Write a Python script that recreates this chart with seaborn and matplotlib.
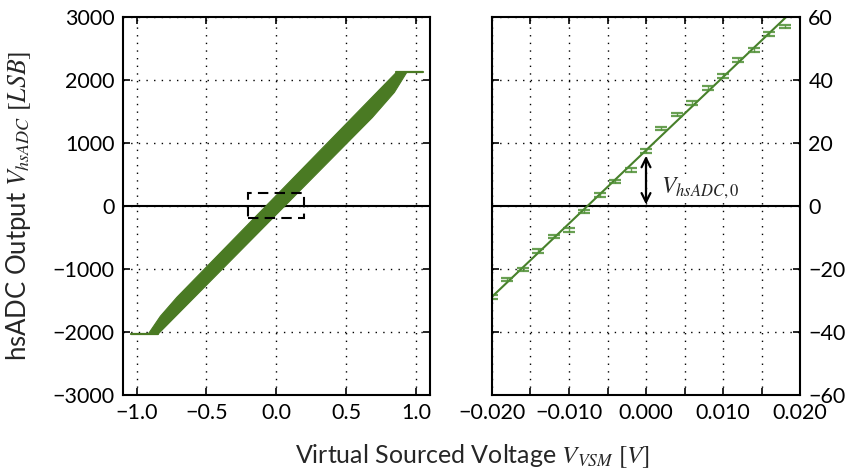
import numpy as np
import pandas as pd
import seaborn as sns
import matplotlib
matplotlib.use("Agg")
import matplotlib.pyplot as plt
from matplotlib.ticker import MultipleLocator
from matplotlib.patches import Rectangle

# ---- full-range sweep: outline of the measured transfer band ----
band_left_code = [-2030, -1750, -1450, 2115]           # LSB, upper-left boundary
band_left_v = [-0.916, -0.830, -0.712, 0.858]          # V
band_right_code = [-2030, 1400, 1800, 2115]            # LSB, lower-right boundary
band_right_v = [-0.845, 0.687, 0.845, 0.933]           # V
sat_low_code = -2030
sat_high_code = 2115
sweep_start_v = -1.04
sweep_stop_v = 1.05

# region shown in the zoomed panel
zoom_box_v = [-0.2, 0.2]
zoom_box_code = [-200, 200]

# ---- fine sweep around zero ----
zoom_v = [-0.020, -0.018, -0.016, -0.014, -0.012, -0.010, -0.008, -0.006,
          -0.004, -0.002, 0.000, 0.002, 0.004, 0.006, 0.008, 0.010,
          0.012, 0.014, 0.016, 0.018]
zoom_code = [-28.9, -23.4, -20.3, -14.4, -9.6, -7.6, -1.7, 3.4,
             7.6, 11.4, 17.4, 24.5, 28.9, 32.6, 37.4, 41.3,
             46.3, 49.5, 54.5, 56.8]
zoom_err = [0.6, 0.5, 0.5, 0.6, 0.5, 0.6, 0.5, 0.6,
            0.5, 0.6, 0.6, 0.5, 0.5, 0.6, 0.6, 0.6,
            0.6, 0.6, 0.5, 0.5]

left_yticks = [-3000, -2000, -1000, 0, 1000, 2000, 3000]
left_xticks = [-1.0, -0.5, 0.0, 0.5, 1.0]
right_yticks = [-60, -40, -20, 0, 20, 40, 60]
right_xticks = [-0.020, -0.010, 0.000, 0.010, 0.020]

band_color = "#4a7a23"
line_color = "#47802a"
err_color = "#4f8f35"

sns.set_theme(style="ticks")
plt.rcParams["font.family"] = ["Lato", "DejaVu Sans"]
plt.rcParams["mathtext.fontset"] = "stix"
plt.rcParams["axes.unicode_minus"] = True

fig = plt.figure(figsize=(8.49, 4.75), dpi=100)
ax_l = fig.add_axes([0.1445, 0.1684, 0.362, 0.7965])
ax_r = fig.add_axes([0.5795, 0.1684, 0.3628, 0.7965])

grid_kw = dict(color="black", linewidth=1.0, linestyle=(0, (1, 4.5)))

# ---------------- left panel ----------------
outline_v = band_left_v + band_right_v[::-1]
outline_code = band_left_code + band_right_code[::-1]
ax_l.fill(outline_v, outline_code, color=band_color, linewidth=0.8, zorder=4)
sns.lineplot(x=[sweep_start_v, band_right_v[0]], y=[sat_low_code, sat_low_code],
             ax=ax_l, color=band_color, linewidth=1.6, zorder=4)
sns.lineplot(x=[band_left_v[-1], sweep_stop_v], y=[sat_high_code, sat_high_code],
             ax=ax_l, color=band_color, linewidth=1.6, zorder=4)
ax_l.axhline(0, color="black", linewidth=1.5, zorder=3)
ax_l.add_patch(Rectangle((zoom_box_v[0], zoom_box_code[0]),
                         zoom_box_v[1] - zoom_box_v[0],
                         zoom_box_code[1] - zoom_box_code[0],
                         fill=False, edgecolor="black", linewidth=1.5,
                         linestyle=(0, (5, 3)), zorder=5))
ax_l.set_xlim(-1.1, 1.1)
ax_l.set_ylim(-3000, 3000)
ax_l.set_xticks(left_xticks)
ax_l.set_yticks(left_yticks)
ax_l.grid(True, **grid_kw)

# ---------------- right panel ----------------
gain, offset = np.polyfit(zoom_v, zoom_code, 1)
fit_v = np.array([-0.021, 0.021])
ax_r.axhline(0, color="black", linewidth=1.5, zorder=3)
sns.lineplot(x=fit_v, y=gain * fit_v + offset, ax=ax_r,
             color=line_color, linewidth=1.5, zorder=4)
ax_r.errorbar(zoom_v, zoom_code, yerr=zoom_err, fmt="none", ecolor=err_color,
              elinewidth=1.0, capsize=4.5, capthick=1.6, alpha=0.85, zorder=5)
ax_r.annotate("", xy=(0.0, offset), xytext=(0.0, 0.0),
              arrowprops=dict(arrowstyle="<->", color="black", lw=1.6,
                              mutation_scale=16, shrinkA=1, shrinkB=4),
              zorder=6)
ax_r.text(0.0019, 5.5, r"$V_{hsADC,0}$", fontsize=17, ha="left", va="center",
          zorder=6, bbox=dict(facecolor="white", edgecolor="none", pad=1.5))
ax_r.set_xlim(-0.02, 0.02)
ax_r.set_ylim(-60, 60)
ax_r.set_xticks(right_xticks)
ax_r.set_xticklabels([f"{v:.3f}".replace("-", "\u2212") for v in right_xticks])
ax_r.xaxis.set_minor_locator(MultipleLocator(0.005))
ax_r.set_yticks(right_yticks)
ax_r.grid(True, which="both", **grid_kw)
ax_r.yaxis.tick_right()

for ax in (ax_l, ax_r):
    ax.set_xlabel("")
    ax.set_ylabel("")
    for s in ax.spines.values():
        s.set_visible(True)
        s.set_linewidth(1.5)
        s.set_color("black")
        s.set_zorder(7)
    ax.tick_params(which="both", direction="in", length=5, width=1.2,
                   top=True, bottom=True, left=True, right=True,
                   labelsize=15.5, colors="black", pad=6)
    ax.set_axisbelow(True)

ax_r.tick_params(labelleft=False, labelright=True)

fig.text(0.556, 0.040, r"Virtual Sourced Voltage $V_{VSM}\ [V]$",
         ha="center", va="center", fontsize=18)
fig.text(0.022, 0.566, r"hsADC Output $V_{hsADC}\ [LSB]$",
         ha="center", va="center", rotation=90, fontsize=18.5)

fig.savefig("out.png", dpi=100)
